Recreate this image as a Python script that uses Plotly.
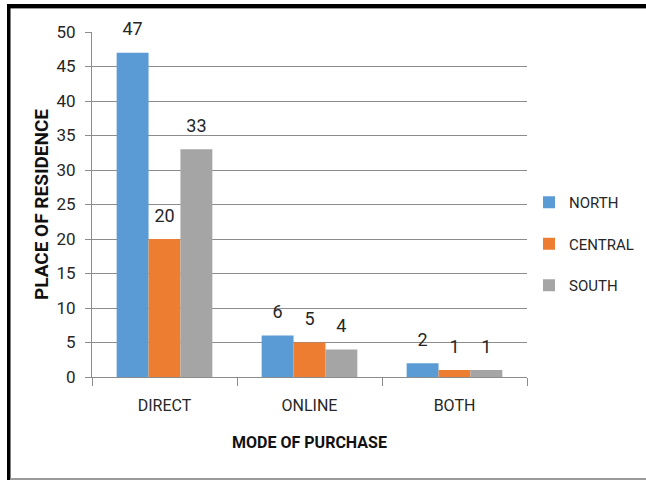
import plotly.graph_objects as go

# Survey counts by mode of purchase and place of residence
categories = ["DIRECT", "ONLINE", "BOTH"]
north = [47, 6, 2]
central = [20, 5, 1]
south = [33, 4, 1]

series_names = ["NORTH", "CENTRAL", "SOUTH"]
series_values = [north, central, south]
series_colors = ["#5B9BD5", "#ED7D31", "#A5A5A5"]

y_ticks = list(range(0, 55, 5))

FONT = "Roboto, Liberation Sans, Arial, sans-serif"
TXT = "#262626"
GRID = "#8C8C8C"

W, H = 646, 481
ML, MR, MT, MB = 92, 119, 32, 104
PW, PH = W - ML - MR, H - MT - MB


def px_x(x):
    return (x - ML) / PW


def px_y(y):
    return (H - MB - y) / PH


fig = go.Figure()
for name, vals, col in zip(series_names, series_values, series_colors):
    fig.add_trace(go.Bar(
        x=categories,
        y=vals,
        name=name,
        legendgroup=name,
        marker=dict(color=col, line=dict(width=0)),
    ))

# value labels, grouped the same way as the bars and lifted by an invisible marker
for name, vals in zip(series_names, series_values):
    fig.add_trace(go.Scatter(
        x=categories,
        y=vals,
        mode="markers+text",
        marker=dict(size=19, opacity=0),
        text=[str(v) for v in vals],
        textposition="top center",
        textfont=dict(family=FONT, size=18, color=TXT),
        showlegend=False,
        hoverinfo="skip",
        cliponaxis=False,
    ))

# outer frame around the chart
shapes = [
    dict(type="rect", xref="paper", yref="paper",
         x0=px_x(7), x1=px_x(646), y0=px_y(8), y1=px_y(4),
         fillcolor="black", line=dict(width=0), layer="above"),
    dict(type="line", xref="paper", yref="paper",
         x0=px_x(10), x1=px_x(646), y0=px_y(8.5), y1=px_y(8.5),
         line=dict(color="#9A9A9A", width=1), layer="above"),
    dict(type="rect", xref="paper", yref="paper",
         x0=px_x(7), x1=px_x(10.5), y0=px_y(480), y1=px_y(4),
         fillcolor="black", line=dict(width=0), layer="above"),
    dict(type="line", xref="paper", yref="paper",
         x0=px_x(10), x1=px_x(646), y0=px_y(479), y1=px_y(479),
         line=dict(color="#9A9A9A", width=2), layer="above"),
]

fig.update_layout(
    width=W, height=H,
    margin=dict(l=ML, r=MR, t=MT, b=MB, autoexpand=False),
    paper_bgcolor="white",
    plot_bgcolor="white",
    barmode="group",
    bargap=0.34,
    bargroupgap=0,
    scattermode="group",
    scattergap=0.34,
    font=dict(family=FONT, size=16, color=TXT),
    showlegend=True,
    legend=dict(
        x=px_x(529), xanchor="left",
        y=px_y(244), yanchor="middle",
        traceorder="grouped",
        tracegroupgap=19,
        font=dict(family=FONT, size=15, color=TXT),
        bgcolor="rgba(0,0,0,0)",
    ),
    shapes=shapes,
    xaxis=dict(
        type="category",
        showline=True, linecolor=GRID, linewidth=1,
        ticks="outside", tickson="boundaries", ticklen=8, tickcolor=GRID,
        tickfont=dict(family=FONT, size=16, color=TXT),
        ticklabelstandoff=14,
        showgrid=False,
        title=dict(text="<b>MODE OF PURCHASE</b>",
                   font=dict(family=FONT, size=16, color="#111111"),
                   standoff=22),
    ),
    yaxis=dict(
        range=[0, 50],
        tickvals=y_ticks,
        showline=True, linecolor=GRID, linewidth=1,
        ticks="outside", ticklen=6, tickcolor=GRID,
        tickfont=dict(family=FONT, size=17, color=TXT),
        ticklabelstandoff=6,
        showgrid=True, gridcolor=GRID, gridwidth=1,
        zeroline=False,
        title=dict(text="<b>PLACE OF RESIDENCE</b>",
                   font=dict(family=FONT, size=19, color="#111111"),
                   standoff=2),
    ),
)

fig.write_html("out.html")
